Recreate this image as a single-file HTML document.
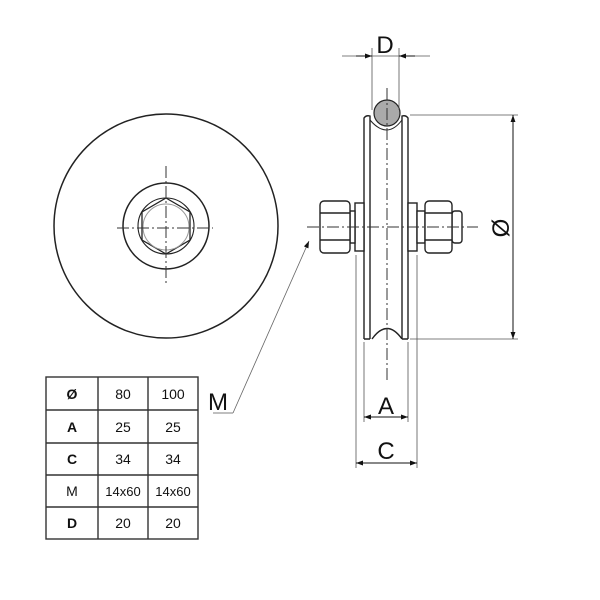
<!DOCTYPE html>
<html><head><style>html,body{margin:0;padding:0;background:#fff}svg{display:block}</style></head>
<body>
<svg width="600" height="600" viewBox="0 0 600 600" xmlns="http://www.w3.org/2000/svg" font-family="Liberation Sans, sans-serif">
<defs>
<marker id="ar" viewBox="0 0 10 10" refX="10" refY="5" markerWidth="10" markerHeight="7" orient="auto-start-reverse" markerUnits="userSpaceOnUse"><path d="M0,1.5 L10,5 L0,8.5z" fill="#111"/></marker>
</defs>
<g fill="none" stroke="#222" stroke-width="1.5">
<circle cx="166" cy="226" r="112"/>
<circle cx="166" cy="226" r="43"/>
<circle cx="166" cy="226" r="28" stroke-width="1.1"/>
<polygon points="166,198 190,212 190,240 166,254 142,240 142,212" stroke-width="1.3"/>
<circle cx="166" cy="227" r="23" stroke="#999" stroke-width="1"/>
</g>
<g stroke="#333" stroke-width="1" stroke-dasharray="12,3,2,3" fill="none">
<line x1="166" y1="166" x2="166" y2="286"/>
<line x1="117" y1="228" x2="213" y2="228"/>
</g>
<g fill="none" stroke="#222" stroke-width="1.4">
<path d="M364,339 L364,118 Q366,115 370,116 L370,339 M364,339 L370,339"/>
<path d="M408,339 L408,118 Q406,115 402,116 L402,339 M402,339 L408,339"/>
<path d="M372,339 Q387,318 402,339"/>
<path d="M370,120 Q387,140 402,120" stroke-width="1"/>
<rect x="355" y="203" width="9" height="48" fill="#fff"/>
<rect x="350" y="211" width="5" height="32" fill="#fff"/>
<rect x="320" y="201" width="30" height="52" rx="4" fill="#fff"/>
<line x1="320" y1="213" x2="350" y2="213"/><line x1="320" y1="240" x2="350" y2="240"/>
<rect x="408" y="203" width="9" height="48" fill="#fff"/>
<rect x="417" y="211" width="8" height="32" fill="#fff"/>
<rect x="452" y="211" width="10" height="32" rx="3" fill="#fff"/>
<rect x="425" y="201" width="27" height="52" rx="4" fill="#fff"/>
<line x1="425" y1="213" x2="452" y2="213"/><line x1="425" y1="240" x2="452" y2="240"/>
</g>
<circle cx="387" cy="113" r="13" fill="#aaa" stroke="#222" stroke-width="1.2"/>
<g stroke="#333" stroke-width="1" stroke-dasharray="12,3,2,3" fill="none">
<line x1="387" y1="88" x2="387" y2="380"/>
<line x1="307" y1="227" x2="478" y2="227"/>
</g>
<g stroke="#555" stroke-width="0.8" fill="none">
<line x1="342" y1="56" x2="430" y2="56"/>
<line x1="372" y1="48" x2="372" y2="110"/><line x1="399" y1="48" x2="399" y2="110"/>
<line x1="410" y1="115" x2="518" y2="115"/><line x1="410" y1="339" x2="518" y2="339"/>
<line x1="364" y1="342" x2="364" y2="422"/><line x1="408" y1="342" x2="408" y2="422"/>
<line x1="356" y1="255" x2="356" y2="468"/><line x1="417" y1="255" x2="417" y2="468"/>
<line x1="213" y1="413" x2="233" y2="413"/>
</g>
<g stroke="#111" stroke-width="1" fill="none">
<line x1="356" y1="56" x2="372" y2="56" marker-end="url(#ar)"/>
<line x1="415" y1="56" x2="399" y2="56" marker-end="url(#ar)"/>
<line x1="513" y1="115" x2="513" y2="339" marker-start="url(#ar)" marker-end="url(#ar)"/>
<line x1="364" y1="417" x2="408" y2="417" marker-start="url(#ar)" marker-end="url(#ar)"/>
<line x1="356" y1="463" x2="417" y2="463" marker-start="url(#ar)" marker-end="url(#ar)"/>
<line x1="233" y1="413" x2="309" y2="241" stroke="#666" stroke-width="0.8" marker-end="url(#ar)"/>
</g>
<g fill="#111" font-size="24">
<text x="385" y="53" text-anchor="middle">D</text>
<text x="386" y="414" text-anchor="middle">A</text>
<text x="386" y="459" text-anchor="middle">C</text>
<text x="218" y="410" text-anchor="middle">M</text>
<text transform="translate(509,228) rotate(-90)" text-anchor="middle">Ø</text>
</g>
<g stroke="#333" stroke-width="1.4" fill="none">
<rect x="46" y="377" width="152" height="162"/>
<line x1="98" y1="377" x2="98" y2="539"/><line x1="148" y1="377" x2="148" y2="539"/>
<line x1="46" y1="410" x2="198" y2="410"/><line x1="46" y1="443" x2="198" y2="443"/>
<line x1="46" y1="475" x2="198" y2="475"/><line x1="46" y1="507" x2="198" y2="507"/>
</g>
<g font-size="14" fill="#111" text-anchor="middle">
<text x="72" y="399" font-weight="bold">Ø</text><text x="123" y="399">80</text><text x="173" y="399">100</text>
<text x="72" y="432" font-weight="bold">A</text><text x="123" y="432">25</text><text x="173" y="432">25</text>
<text x="72" y="464" font-weight="bold">C</text><text x="123" y="464">34</text><text x="173" y="464">34</text>
<text x="72" y="496">M</text><text x="123" y="496" font-size="13">14x60</text><text x="173" y="496" font-size="13">14x60</text>
<text x="72" y="528" font-weight="bold">D</text><text x="123" y="528">20</text><text x="173" y="528">20</text>
</g>
</svg>
</body></html>
